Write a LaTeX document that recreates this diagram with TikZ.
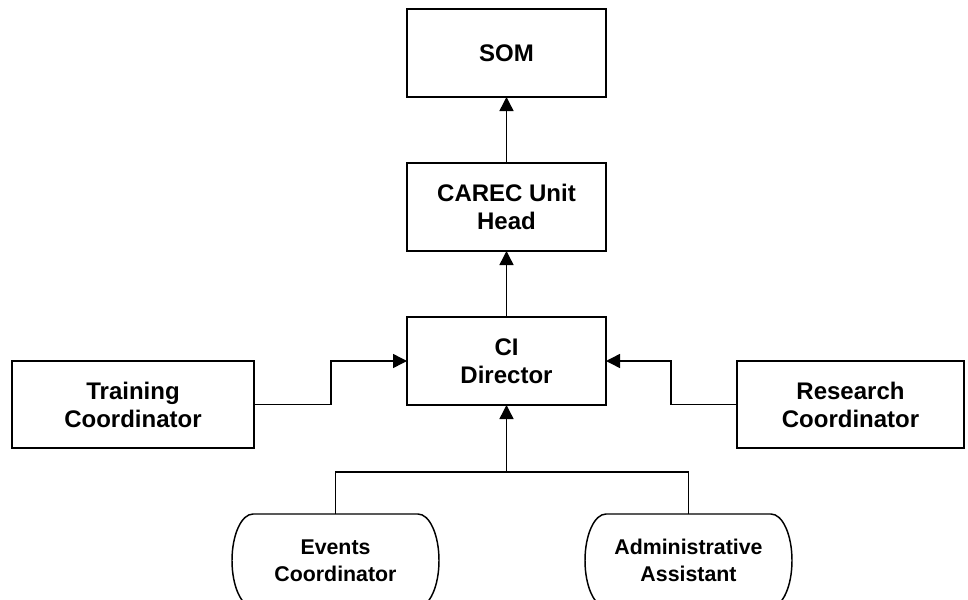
\documentclass[tikz,border=0pt]{standalone}
\usepackage{fontspec}
\setmainfont{Liberation Sans}
\usetikzlibrary{arrows.meta,positioning}

\begin{document}
\begin{tikzpicture}[
    x=0.75pt, y=-0.75pt,
    box/.style={rectangle, draw, line width=1.1pt, outer sep=0pt, align=center, font=\bfseries\fontsize{18}{21}\selectfont, minimum width=149.25pt, minimum height=66pt, inner sep=0pt},
    sidebox/.style={box, minimum height=65.25pt},
    oval/.style={rectangle, align=center, font=\bfseries\fontsize{16}{20}\selectfont, minimum width=155.25pt, minimum height=69.75pt, inner sep=0pt, outer sep=0pt,
        append after command={\pgfextra{\draw[line width=1.1pt]
            ([xshift=15.75pt]\tikzlastnode.north west) -- ([xshift=-15.75pt]\tikzlastnode.north east)
            arc[start angle=90, end angle=-90, x radius=15.75pt, y radius=34.875pt]
            -- ([xshift=15.75pt]\tikzlastnode.south west)
            arc[start angle=270, end angle=90, x radius=15.75pt, y radius=34.875pt] -- cycle;}}},
    arrow/.style={line width=1.1pt, -{Triangle[length=10.5pt,width=10.5pt]}},
    link/.style={line width=1.1pt}
]
\useasboundingbox (0,0) rectangle (968,600);

\node[box] (som) at (506.5,53) {SOM};
\node[box, below=49.5pt of som] (carec) {CAREC Unit\\Head};
\node[box, below=49.5pt of carec] (ci) {CI\\Director};
\node[sidebox, minimum width=181.5pt] (train) at (133,404.5) {Training\\Coordinator};
\node[sidebox, minimum width=170.25pt] (res) at (850.5,404.5) {Research\\Coordinator};
\node[oval] (events) at (335.5,560.5) {Events\\Coordinator};
\node[oval] (admin) at (688.5,560.5) {Administrative\\Assistant};

\coordinate (tbend) at (331,361);
\coordinate (rbend) at (671,361);
\coordinate (join) at (506.5,472);

\draw[arrow] (carec) -- (som);
\draw[arrow] (ci) -- (carec);
\draw[arrow] (train.east) -| (tbend |- ci.west) -- (ci.west);
\draw[arrow] (res.west) -| (rbend |- ci.east) -- (ci.east);
\draw[link] (events.north) |- (join) -| (admin.north);
\draw[arrow] (join) -- (ci.south);

\end{tikzpicture}
\end{document}
